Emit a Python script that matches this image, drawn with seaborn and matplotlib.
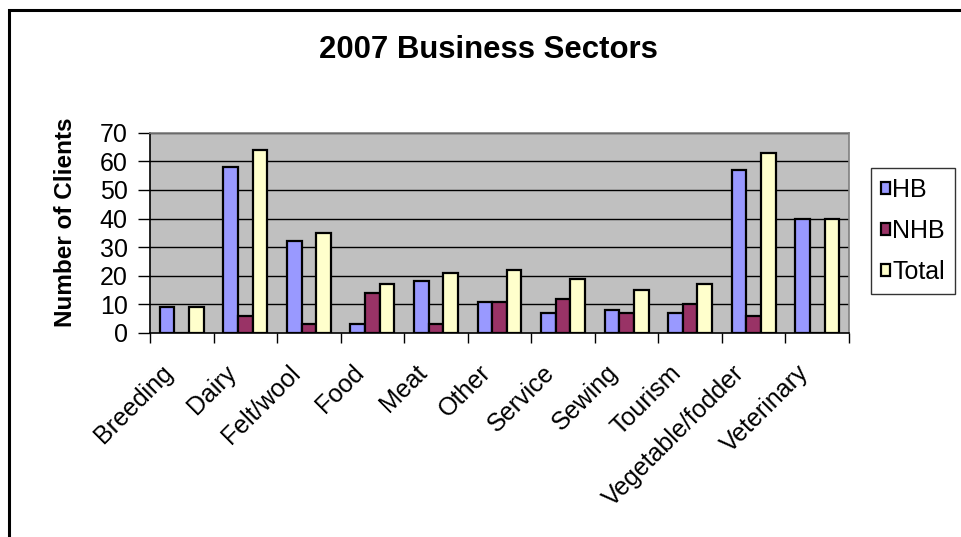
import matplotlib
matplotlib.use("Agg")
import matplotlib.pyplot as plt
import seaborn as sns
import pandas as pd
from matplotlib.patches import Rectangle

sectors = ["Breeding", "Dairy", "Felt/wool", "Food", "Meat", "Other", "Service",
           "Sewing", "Tourism", "Vegetable/fodder", "Veterinary"]
hb = [9, 58, 32, 3, 18, 11, 7, 8, 7, 57, 40]
nhb = [0, 6, 3, 14, 3, 11, 12, 7, 10, 6, 0]
total = [9, 64, 35, 17, 21, 22, 19, 15, 17, 63, 40]
groups = ["HB", "NHB", "Total"]
colors = ["#9999FF", "#993366", "#FFFFCC"]
y_ticks = [0, 10, 20, 30, 40, 50, 60, 70]

rows = []
for g, vals in zip(groups, [hb, nhb, total]):
    for s, v in zip(sectors, vals):
        rows.append({"Sector": s, "Group": g, "Clients": v})
df = pd.DataFrame(rows)

sns.set_style("white")
plt.rcParams["font.family"] = ["Liberation Sans", "DejaVu Sans"]
for k in ["text.color", "axes.labelcolor", "xtick.color", "ytick.color"]:
    plt.rcParams[k] = "black"

W, H = 962, 537
fig = plt.figure(figsize=(W / 100, H / 100), dpi=100)
ax = fig.add_axes([150 / W, 1 - 333 / H, 699 / W, (333 - 132.7) / H])
ax.set_facecolor("#C0C0C0")

sns.barplot(data=df, x="Sector", y="Clients", hue="Group", order=sectors,
            hue_order=groups, palette=colors, saturation=1, width=0.69,
            edgecolor="black", linewidth=1.6, ax=ax, zorder=3)

ax.set_xlim(-0.5, len(sectors) - 0.5)
ax.set_ylim(0, 70)
ax.set_yticks(y_ticks)
ax.set_yticklabels([str(t) for t in y_ticks], fontsize=18)
for t in y_ticks[1:]:
    ax.axhline(t, color="black", lw=1.0, zorder=1)

# label anchors sit slightly left of each category centre (Excel-style)
label_offset = -0.2
ax.set_xticks([i + label_offset for i in range(len(sectors))])
ax.set_xticklabels(sectors, rotation=45, ha="right", va="center",
                   rotation_mode="anchor", fontsize=18)
ax.set_xticks([i - 0.5 for i in range(len(sectors) + 1)], minor=True)
ax.tick_params(axis="x", which="major", length=0, pad=26)
ax.tick_params(axis="x", which="minor", length=7, width=1, color="black",
               direction="out", bottom=True)
ax.tick_params(axis="y", which="major", length=9, width=1, color="black",
               direction="out", left=True, pad=7)
ax.set_xlabel("")
ax.set_ylabel("")

for side in ["left", "bottom"]:
    ax.spines[side].set_color("black")
    ax.spines[side].set_linewidth(1.2)
for side in ["top", "right"]:
    ax.spines[side].set_color("#808080")
    ax.spines[side].set_linewidth(1.2)
    ax.spines[side].set_visible(True)

handles, labels = ax.get_legend_handles_labels()
if ax.get_legend() is not None:
    ax.get_legend().remove()
leg = ax.legend(handles, labels, loc="upper left",
                bbox_to_anchor=(871 / W, 1 - 168 / H),
                bbox_transform=fig.transFigure, borderaxespad=0,
                frameon=True, fancybox=False, edgecolor="black",
                fontsize=18, handlelength=0.35, handleheight=0.35,
                handletextpad=0.1, labelspacing=0.68, borderpad=0.4)
leg.get_frame().set_linewidth(1.0)

fig.text(488 / W, 1 - 50 / H, "2007 Business Sectors", ha="center",
         va="center", fontsize=22.4, fontweight="bold")
fig.text(66 / W, 1 - 222 / H, "Number of Clients", ha="center", va="center",
         rotation=90, fontsize=17.5, fontweight="bold")

border = Rectangle((9 / W, -0.2), 1.2, 1.2 - 10 / H, transform=fig.transFigure,
                   fill=False, edgecolor="black", linewidth=2.2)
fig.patches.append(border)

fig.savefig("out.png", dpi=100)
